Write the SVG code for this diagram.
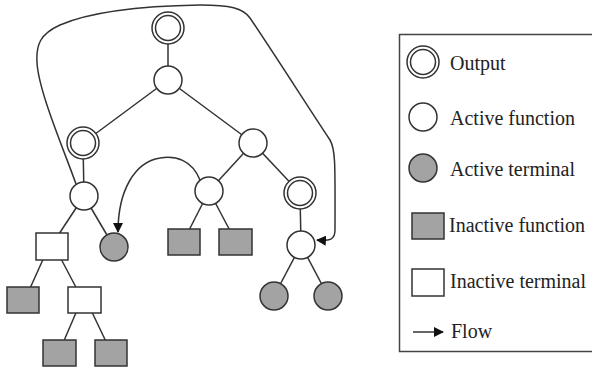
<svg xmlns="http://www.w3.org/2000/svg" width="592" height="368" viewBox="0 0 592 368">
<style>
.e{stroke:#333;stroke-width:1.5;fill:none}
.w{fill:#fff;stroke:#333;stroke-width:1.5}
.g{fill:#a3a3a3;stroke:#333;stroke-width:1.5}
.t{font-family:"Liberation Serif","Times New Roman",serif;font-size:20px;fill:#222}
</style>
<defs>
<marker id="ah" viewBox="0 0 10 10" refX="9" refY="5" markerWidth="10" markerHeight="10" markerUnits="userSpaceOnUse" orient="auto">
<path d="M0,0 L10,5 L0,10 z" fill="#111"/>
</marker>
<g id="dbl"><circle r="16" class="w"/><circle r="12.5" class="w"/></g>
</defs>
<rect width="592" height="368" fill="#fff"/>
<g id="connectors">
<line class="e" x1="168" y1="28" x2="168" y2="80"/>
<line class="e" x1="168" y1="80" x2="83" y2="143"/>
<line class="e" x1="168" y1="80" x2="253" y2="143"/>
<line class="e" x1="83" y1="143" x2="84" y2="196"/>
<line class="e" x1="84" y1="196" x2="55" y2="240"/>
<line class="e" x1="84" y1="196" x2="114" y2="247"/>
<line class="e" x1="45" y1="255" x2="27" y2="295"/>
<line class="e" x1="59" y1="255" x2="80" y2="295"/>
<line class="e" x1="78" y1="308" x2="60" y2="350"/>
<line class="e" x1="90" y1="308" x2="110" y2="350"/>
<line class="e" x1="253" y1="143" x2="209" y2="191"/>
<line class="e" x1="253" y1="143" x2="300" y2="193"/>
<line class="e" x1="209" y1="191" x2="184" y2="240"/>
<line class="e" x1="209" y1="191" x2="235" y2="240"/>
<line class="e" x1="300" y1="193" x2="301" y2="245"/>
<line class="e" x1="301" y1="245" x2="274" y2="296"/>
<line class="e" x1="301" y1="245" x2="328" y2="296"/>
<path class="e" marker-end="url(#ah)" d="M76,184 C64,150 38,90 37,62 C36,45 40,34 60,25 C90,12 140,6 200,5 C230,5 243,8 250,18 C275,55 310,110 330,140 C336,150 335,170 335,230 C335,240 330,241 317,240"/>
<path class="e" marker-end="url(#ah)" d="M200,180 C192,160 175,155 160,158 C135,162 118,190 118,232"/>
</g>
<g id="n_out"><use href="#dbl" x="168" y="28"/></g>
<g id="n_root"><circle cx="168" cy="80" r="14" class="w"/></g>
<g id="n_lout"><use href="#dbl" x="83" y="143"/></g>
<g id="n_rfun"><circle cx="253" cy="143" r="14" class="w"/></g>
<g id="n_lfun"><circle cx="84" cy="196" r="14" class="w"/></g>
<g id="n_mfun"><circle cx="209" cy="191" r="14" class="w"/></g>
<g id="n_rout"><use href="#dbl" x="300" y="193"/></g>
<g id="n_rfun2"><circle cx="301" cy="245" r="14" class="w"/></g>
<g id="n_it1"><rect x="36" y="233" width="32" height="27" class="w"/></g>
<g id="n_at1"><circle cx="114" cy="247" r="14" class="g"/></g>
<g id="n_if1"><rect x="168" y="229" width="32" height="26" class="g"/></g>
<g id="n_if2"><rect x="219" y="229" width="33" height="26" class="g"/></g>
<g id="n_if3"><rect x="7" y="287" width="32" height="26" class="g"/></g>
<g id="n_it2"><rect x="68" y="287" width="33" height="26" class="w"/></g>
<g id="n_if4"><rect x="43" y="340" width="33" height="26" class="g"/></g>
<g id="n_if5"><rect x="95" y="340" width="32" height="26" class="g"/></g>
<g id="n_at2"><circle cx="274" cy="296" r="14" class="g"/></g>
<g id="n_at3"><circle cx="328" cy="296" r="14" class="g"/></g>
<g id="legend">
<rect x="399.5" y="34.5" width="200" height="317" fill="none" stroke="#444" stroke-width="1.5"/>
<use href="#dbl" x="423" y="62"/>
<text class="t" x="450" y="70">Output</text>
<circle cx="423" cy="117" r="14" class="w"/>
<text class="t" x="450" y="125">Active function</text>
<circle cx="423" cy="168" r="14" class="g"/>
<text class="t" x="450" y="176">Active terminal</text>
<rect x="412" y="213" width="32" height="26" class="g"/>
<text class="t" x="449" y="232">Inactive function</text>
<rect x="412" y="269" width="32" height="27" class="w"/>
<text class="t" x="450" y="288">Inactive terminal</text>
<line class="e" x1="413" y1="332" x2="443" y2="332" marker-end="url(#ah)"/>
<text class="t" x="451" y="338">Flow</text>
</g>
</svg>
